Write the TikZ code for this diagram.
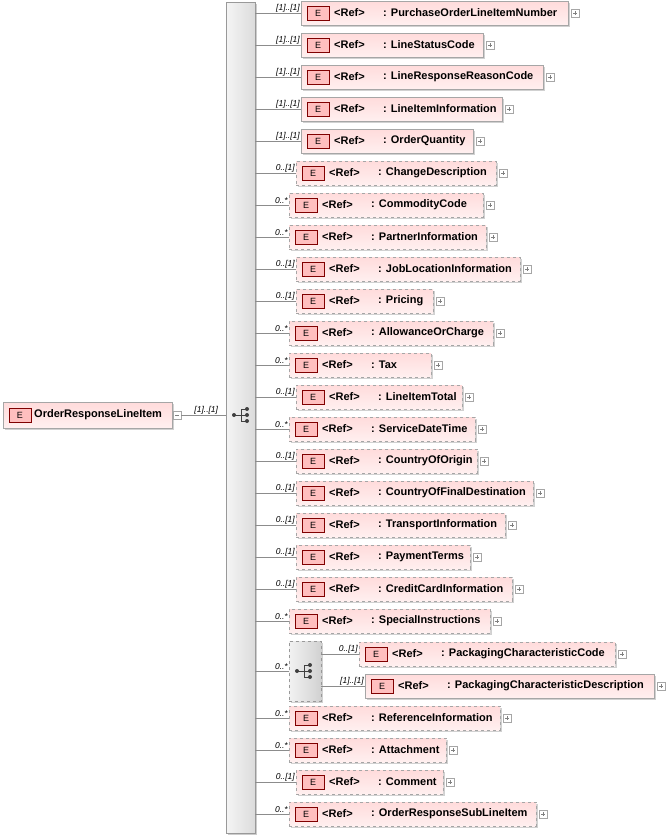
\documentclass[tikz,border=0pt]{standalone}
\usepackage{fontspec}
\setmainfont{Liberation Sans}
\begin{document}
\begin{tikzpicture}[x=1pt,y=-1pt,
 box/.style={draw=black!35,top color=red!14,bottom color=red!6,minimum height=24pt,inner sep=0pt,anchor=west},
 shad/.style={fill=black!18,draw=none,minimum height=24pt,inner sep=0pt,anchor=west},
 eic/.style={draw=red!50!black,fill=red!25,minimum width=22pt,minimum height=14pt,inner sep=0pt,font=\fontsize{9}{10}\selectfont},
 lbl/.style={font=\bfseries\fontsize{11}{13}\selectfont,anchor=west,inner sep=0pt},
 card/.style={font=\itshape\fontsize{8.5}{9}\selectfont,anchor=south east,inner sep=1pt},
 pls/.style={draw=black!35,fill=white,minimum size=8pt,inner sep=0pt},
 conn/.style={draw=black!45}]
\useasboundingbox (0,0) rectangle (665,835);
% sequence bar
\node[fill=black!20,minimum width=29pt,minimum height=831pt,inner sep=0pt,anchor=north west] at (228,4) {};
\node[draw=black!40,left color=black!4,right color=black!14,minimum width=29pt,minimum height=831pt,inner sep=0pt,anchor=north west] (seq) at (226,2) {};
% sequence icon
\fill[black!75] (234,415) circle (2pt) (247,409) circle (2pt) (247,415) circle (2pt) (247,421) circle (2pt);
\draw[black!75,line width=0.8pt] (234,415)--(241,415) (241,409)--(241,421) (241,409)--(247,409) (241,415)--(247,415) (241,421)--(247,421);
% root
\node[shad,minimum width=169pt,minimum height=26pt] at (5,417) {};
\node[box,minimum width=169pt,minimum height=26pt] (root) at (3,415) {};
\node[eic] (re) at (20,415) {E};
\node[lbl] at (34,415) {OrderResponseLineItem};
\node[pls] (rp) at (177,415) {}; \draw[black!50] (175,415)--(179,415);
\draw[conn] (rp.east) -- (seq.west |- rp.east) node[card,pos=0.85] {[1]..[1]};
% children
\foreach \y/\l/\r/\n/\s in {
13/301/568/PurchaseOrderLineItemNumber/solid,
45/301/483/LineStatusCode/solid,
77/301/543/LineResponseReasonCode/solid,
109/301/502/LineItemInformation/solid,
141/301/473/OrderQuantity/solid,
173/296/496/ChangeDescription/dashed,
205/289/483/CommodityCode/dashed,
237/289/486/PartnerInformation/dashed,
269/296/520/JobLocationInformation/dashed,
301/296/433/Pricing/dashed,
333/289/493/AllowanceOrCharge/dashed,
365/289/431/Tax/dashed,
397/296/462/LineItemTotal/dashed,
429/289/475/ServiceDateTime/dashed,
461/296/477/CountryOfOrigin/dashed,
493/296/533/CountryOfFinalDestination/dashed,
525/296/505/TransportInformation/dashed,
557/296/470/PaymentTerms/dashed,
589/296/512/CreditCardInformation/dashed,
621/289/490/SpecialInstructions/dashed,
654/359/615/PackagingCharacteristicCode/dashed,
686/365/654/PackagingCharacteristicDescription/solid,
718/289/500/ReferenceInformation/dashed,
750/289/446/Attachment/dashed,
782/296/443/Comment/dashed,
814/289/536/OrderResponseSubLineItem/dashed}{
 \node[shad,minimum width=\r-\l] at (\l+2,\y+2) {};
 \node[box,\s,minimum width=\r-\l] (b\n) at (\l,\y) {};
 \node[eic] at (\l+17,\y) {E};
 \node[lbl] at (\l+33,\y) {<Ref>};
 \node[lbl] at (\l+82,\y) {: \n};
 \node[pls] at (\r+7,\y) {};
 \draw[black!50] (\r+5,\y)--(\r+9,\y) (\r+7,\y-2)--(\r+7,\y+2);
}
% choice group
\node[fill=black!18,minimum width=32pt,minimum height=60pt,inner sep=0pt,anchor=north west] at (291,643) {};
\node[draw=black!40,dashed,left color=black!5,right color=black!18,minimum width=32pt,minimum height=60pt,inner sep=0pt,anchor=north west] (cho) at (289,641) {};
\fill[black!75] (297,671) circle (2pt) (310,665) circle (2pt) (310,671) circle (2pt) (310,677) circle (2pt);
\draw[black!75,line width=0.8pt] (297,671)--(304,671) (304,665)--(304,677) (304,665)--(310,665) (304,671)--(310,671) (304,677)--(310,677);
% connectors from sequence
\foreach \n/\c in {PurchaseOrderLineItemNumber/{[1]..[1]},LineStatusCode/{[1]..[1]},LineResponseReasonCode/{[1]..[1]},LineItemInformation/{[1]..[1]},OrderQuantity/{[1]..[1]},ChangeDescription/{0..[1]},CommodityCode/{0..*},PartnerInformation/{0..*},JobLocationInformation/{0..[1]},Pricing/{0..[1]},AllowanceOrCharge/{0..*},Tax/{0..*},LineItemTotal/{0..[1]},ServiceDateTime/{0..*},CountryOfOrigin/{0..[1]},CountryOfFinalDestination/{0..[1]},TransportInformation/{0..[1]},PaymentTerms/{0..[1]},CreditCardInformation/{0..[1]},SpecialInstructions/{0..*},ReferenceInformation/{0..*},Attachment/{0..*},Comment/{0..[1]},OrderResponseSubLineItem/{0..*}}{
 \draw[conn] (seq.east |- b\n.west) -- (b\n.west) node[card,pos=1] {\c};
}
\draw[conn] (seq.east |- cho.west) -- (cho.west) node[card,pos=1] {0..*};
\draw[conn] (cho.east |- bPackagingCharacteristicCode.west) -- (bPackagingCharacteristicCode.west) node[card,pos=1] {0..[1]};
\draw[conn] (cho.east |- bPackagingCharacteristicDescription.west) -- (bPackagingCharacteristicDescription.west) node[card,pos=1] {[1]..[1]};
\end{tikzpicture}
\end{document}
